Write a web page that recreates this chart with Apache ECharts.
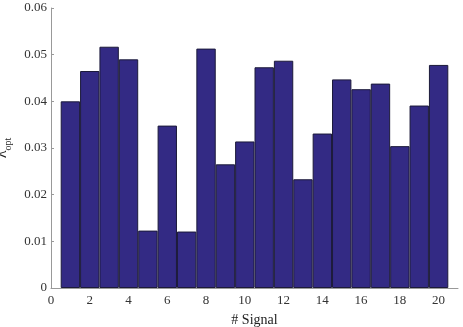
<!DOCTYPE html>
<html>
<head>
<meta charset="utf-8">
<script src="https://cdn.jsdelivr.net/npm/echarts@6/dist/echarts.min.js"></script>
<style>
  html, body { margin: 0; padding: 0; background: #fff; }
  #chart { width: 463px; height: 327px; }
</style>
</head>
<body>
<div id="chart"></div>
<script>
// signal index and optimal lambda per signal
const signals = [1, 2, 3, 4, 5, 6, 7, 8, 9, 10, 11, 12, 13, 14, 15, 16, 17, 18, 19, 20]
const lambdaOpt = [0.0400, 0.0465, 0.0517, 0.0490, 0.0123, 0.0348, 0.0121, 0.0513, 0.0265, 0.0314,
                   0.0473, 0.0487, 0.0233, 0.0331, 0.0447, 0.0426, 0.0438, 0.0304, 0.0391, 0.0478]

const font = 'Liberation Serif, Times New Roman, serif'
const plotW = 463 - 51 - 5

const chart = echarts.init(document.getElementById('chart'))
chart.setOption({
  animation: false,
  grid: { left: 51, right: 5, top: 8, bottom: 39, outerBoundsMode: 'none', containLabel: false },
  xAxis: {
    type: 'value',
    min: 0,
    max: 21,
    interval: 2,
    name: '# Signal',
    nameLocation: 'middle',
    nameGap: 25,
    nameTextStyle: { fontFamily: font, fontSize: 14, color: '#222' },
    axisLine: { lineStyle: { color: '#999' } },
    axisTick: { show: false },
    axisLabel: {
      fontFamily: font, fontSize: 13, color: '#333', margin: 6,
      showMaxLabel: false,
      formatter: v => (v % 2 === 0 && v <= 20) ? String(v) : ''
    },
    splitLine: { show: false }
  },
  yAxis: {
    type: 'value',
    min: 0,
    max: 0.06,
    interval: 0.01,
    name: '{a|λ}{b|opt}',
    nameLocation: 'middle',
    nameGap: 38,
    nameRotate: 90,
    nameTextStyle: {
      rich: {
        a: { fontFamily: font, fontSize: 16, color: '#222', lineHeight: 22 },
        b: { fontFamily: font, fontSize: 10, color: '#222', verticalAlign: 'bottom', lineHeight: 22 }
      }
    },
    axisLine: { show: true, lineStyle: { color: '#999' } },
    axisTick: { show: true, inside: true, length: 3, lineStyle: { color: '#999' } },
    axisLabel: {
      fontFamily: font, fontSize: 13, color: '#333', margin: 4,
      formatter: v => v === 0 ? '0' : v.toFixed(2)
    },
    splitLine: { show: false }
  },
  series: [{
    type: 'bar',
    data: signals.map((s, i) => [s, lambdaOpt[i]]),
    barWidth: plotW / 21,
    itemStyle: { color: '#332a84', borderColor: '#1c1a3a', borderWidth: 1 }
  }]
})
</script>
</body>
</html>
